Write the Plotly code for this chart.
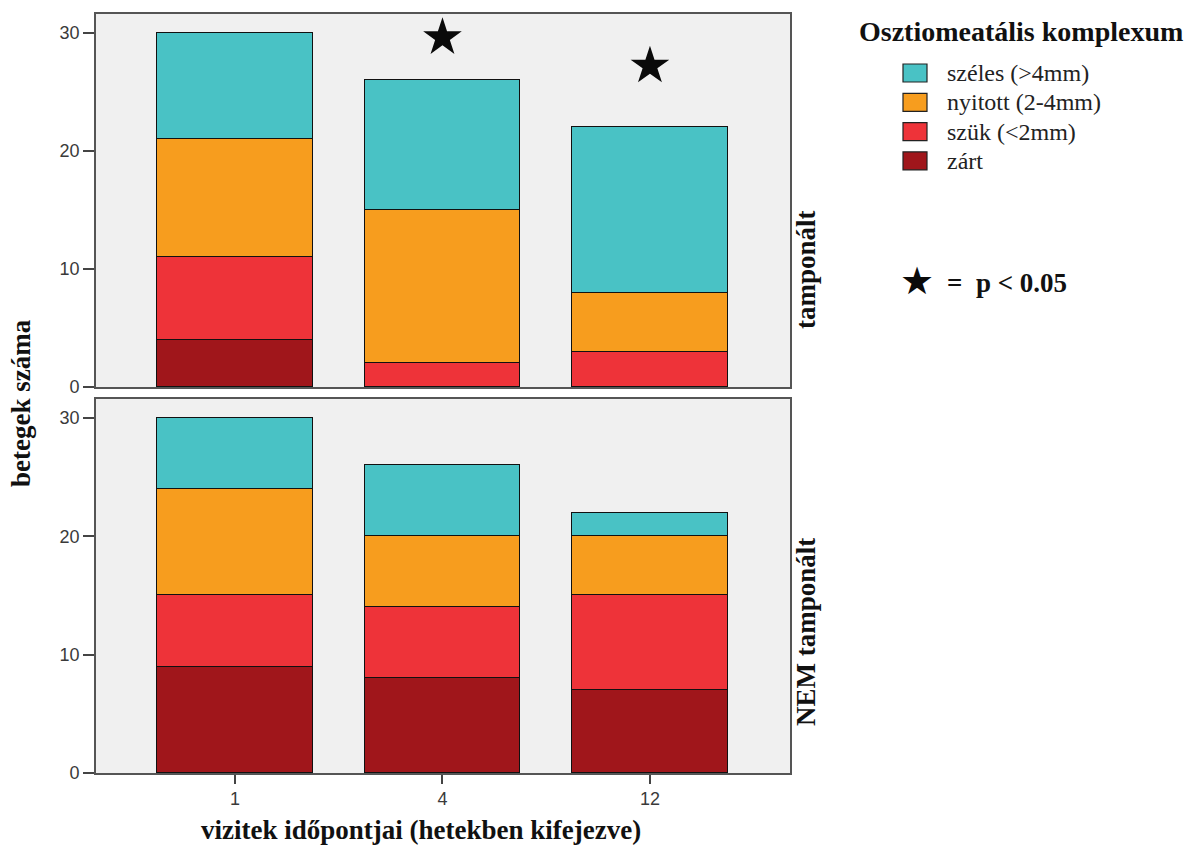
import plotly.graph_objects as go

# visit times (weeks)
visits = ["1", "4", "12"]

# ostiomeatal complex categories, bottom to top of each stack
categories = ["zárt", "szük (<2mm)", "nyitott (2-4mm)", "széles (>4mm)"]
colors = ["#A0161B", "#EE3339", "#F79D1E", "#49C2C5"]

# packed group (tamponált)
tamp_zart = [4, 0, 0]
tamp_szuk = [7, 2, 3]
tamp_nyitott = [10, 13, 5]
tamp_szeles = [9, 11, 14]

# not packed group (NEM tamponált)
nem_zart = [9, 8, 7]
nem_szuk = [6, 6, 8]
nem_nyitott = [9, 6, 5]
nem_szeles = [6, 6, 2]

# significance markers (p < 0.05) in the packed group
star_visits = ["4", "12"]
star_y = [29.6, 27.2]

y_ticks = [0, 10, 20, 30]

serif = "Liberation Serif"
sans = "Liberation Sans"

fig = go.Figure()

groups = [
    ([tamp_zart, tamp_szuk, tamp_nyitott, tamp_szeles], "x", "y"),
    ([nem_zart, nem_szuk, nem_nyitott, nem_szeles], "x2", "y2"),
]
for series, xa, ya in groups:
    for name, vals, col in zip(categories, series, colors):
        fig.add_trace(go.Bar(
            x=visits, y=vals, name=name, xaxis=xa, yaxis=ya,
            marker=dict(color=col, line=dict(color="#111111", width=1)),
            width=0.75, showlegend=False, hoverinfo="x+y+name",
        ))

fig.add_trace(go.Scatter(
    x=star_visits, y=star_y, mode="markers", xaxis="x", yaxis="y",
    marker=dict(symbol="star", size=29, color="#0a0a0a"),
    showlegend=False, hoverinfo="skip",
))

x_range = [-0.67, 2.675]
y_range = [0, 31.6]
panel_line = dict(showline=True, mirror=True, linecolor="#555555", linewidth=1.6)
tick_font = dict(family=sans, size=18, color="#3a3a3a")

fig.update_layout(
    width=1195, height=846,
    margin=dict(l=96, r=405, t=14, b=73),
    barmode="stack",
    bargap=0,
    paper_bgcolor="white",
    plot_bgcolor="#F0F0F0",
    showlegend=False,
    xaxis=dict(domain=[0, 1], range=x_range, anchor="y", type="category",
               showticklabels=False, ticks="", showgrid=False, zeroline=False, **panel_line),
    yaxis=dict(domain=[0.5086, 1], range=y_range, anchor="x", tickvals=y_ticks,
               ticks="outside", ticklen=11, tickwidth=1.6, tickcolor="#444444",
               tickfont=tick_font, showgrid=False, zeroline=False, **panel_line),
    xaxis2=dict(domain=[0, 1], range=x_range, anchor="y2", type="category",
                ticks="outside", ticklen=9, tickwidth=1.6, tickcolor="#444444",
                tickfont=tick_font, showgrid=False, zeroline=False, **panel_line),
    yaxis2=dict(domain=[0, 0.4928], range=y_range, anchor="x2", tickvals=y_ticks,
                ticks="outside", ticklen=11, tickwidth=1.6, tickcolor="#444444",
                tickfont=tick_font, showgrid=False, zeroline=False, **panel_line),
)

plot_h = 846 - 14 - 73
plot_w = 1195 - 96 - 405


def px(x):
    return (x - 96) / plot_w


def py(y):
    return (846 - 73 - y) / plot_h


title_font = dict(family=serif, size=27, color="#111111")
annotations = [
    dict(text="<b>betegek száma</b>", x=px(21), y=py(403), textangle=-90, font=title_font),
    dict(text="<b>vizitek időpontjai (hetekben kifejezve)</b>", x=px(421), y=py(830),
         font=title_font),
    dict(text="<b>tamponált</b>", x=px(806), y=py(270), textangle=-90, font=title_font),
    dict(text="<b>NEM tamponált</b>", x=px(806), y=py(632), textangle=-90, font=title_font),
    dict(text="<b>Osztiomeatális komplexum</b>", x=px(857), y=py(31), xanchor="left",
         font=dict(family=serif, size=28, color="#111111")),
    dict(text="★", x=px(917), y=py(281),
         font=dict(family="DejaVu Sans", size=38, color="#0a0a0a")),
    dict(text="<b>=  p < 0.05</b>", x=px(945), y=py(283), xanchor="left",
         font=dict(family=serif, size=27, color="#111111")),
]

# legend swatches and labels, top row = top of the stack
row_y0 = 73
row_step = 29.3
shapes = []
for i, (name, col) in enumerate(zip(categories[::-1], colors[::-1])):
    cy = row_y0 + i * row_step
    h = 9 / plot_h
    shapes.append(dict(type="rect", xref="paper", yref="paper", x0=px(903), x1=px(927),
                       y0=py(cy) - h, y1=py(cy) + h, fillcolor=col,
                       line=dict(color="#222222", width=1.2)))
    annotations.append(dict(text=name, x=px(945), y=py(cy), xanchor="left",
                            font=dict(family=serif, size=24, color="#222222")))

for a in annotations:
    a.setdefault("xref", "paper")
    a.setdefault("yref", "paper")
    a.setdefault("xanchor", "center")
    a.setdefault("yanchor", "middle")
    a.setdefault("showarrow", False)
fig.update_layout(annotations=annotations, shapes=shapes)

fig.write_html("out.html")
